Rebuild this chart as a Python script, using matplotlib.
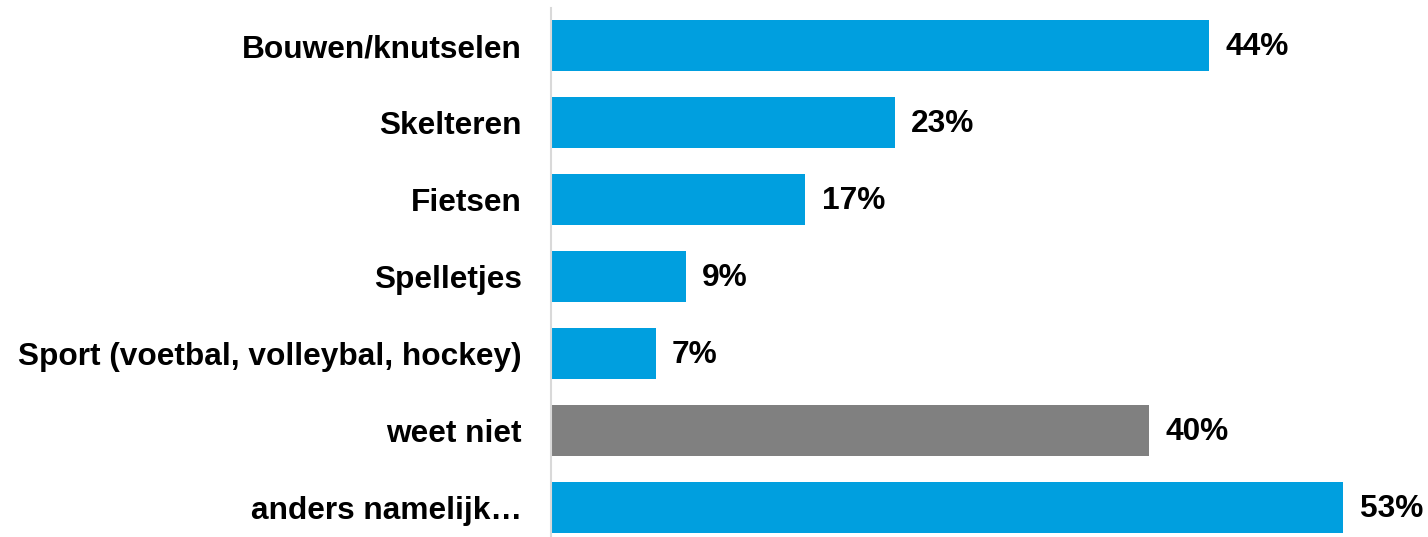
import matplotlib
matplotlib.use('Agg')
from matplotlib import pyplot as plt

# Gegevens uit de grafiek
categories = ['Bouwen/knutselen', 'Skelteren', 'Fietsen', 'Spelletjes',
              'Sport (voetbal, volleybal, hockey)', 'weet niet', 'anders namelijk…']
values = [44, 23, 17, 9, 7, 40, 53]
colors = ['#009FDF', '#009FDF', '#009FDF', '#009FDF', '#009FDF', '#808080', '#009FDF']

plt.rcParams['font.family'] = ['Liberation Sans', 'DejaVu Sans']

fig = plt.figure(figsize=(14.28, 5.37), dpi=100)
ax = fig.add_axes([551 / 1428, 0, 877 / 1428, 1])

pos = list(range(len(categories)))
ax.barh(pos, values, height=0.66, color=colors)

for p, v in zip(pos, values):
    ax.text(v + 1.1, p + 0.02, f'{v}%', va='center', ha='left',
            fontsize=22.8, fontweight='bold')

ax.set_xlim(0, 877 / 14.95)
ax.set_ylim(6.383, -0.591)
ax.set_yticks(pos)
ax.set_yticklabels(categories, fontsize=22.8, fontweight='bold')
ax.tick_params(axis='y', length=0, pad=21)
ax.set_xticks([])

for s in ['top', 'right', 'bottom']:
    ax.spines[s].set_visible(False)
ax.spines['left'].set_color('#d9d9d9')
ax.spines['left'].set_linewidth(1.5)
ax.spines['left'].set_bounds(6.383, -0.49)

fig.savefig('out.png', dpi=100)
